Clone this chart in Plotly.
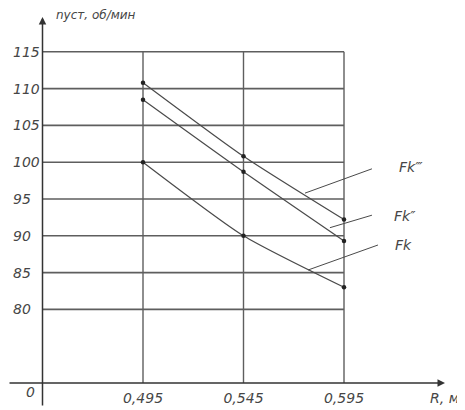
import plotly.graph_objects as go

# ---- data ----
R = [0.495, 0.545, 0.595]
Fk = [100.0, 90.0, 83.0]
Fk2 = [108.5, 98.7, 89.3]
Fk3 = [110.8, 100.8, 92.2]

y_ticks = [80, 85, 90, 95, 100, 105, 110, 115]
y_ticktext = ["80", "85", "90", "95", "100", "105", "110", "115"]
x_ticks = [0.495, 0.545, 0.595]
x_ticktext = ["0,495", "0,545", "0,595"]

series_names = ["Fk", "Fk\u2033", "Fk\u2034"]
x0, y0 = 0.445, 70.0  # broken-axis origin shown as "0"

# page has an 8px body margin, so the figure is a bit smaller than the window
W, H = 457, 402
OX, OY = 34.5, 375.0          # origin position inside the figure (px)
SX, SY = 2010.0, 7.36         # px per data unit
XL, XR = x0 - OX / SX, x0 + (W - OX) / SX
YB, YT = y0 - (H - OY) / SY, y0 + OY / SY

FONT = "DejaVu Sans"
TXT = "#464646"
GRID = "#5e5e5e"
LINE = "#4a4a4a"

fig = go.Figure()

for name, ys in zip(series_names, [Fk, Fk2, Fk3]):
    fig.add_trace(go.Scatter(
        x=R, y=ys, mode="lines+markers", name=name,
        line=dict(color=LINE, width=1.2, shape="spline", smoothing=0.6),
        marker=dict(color="#222", size=4.5),
        showlegend=False, hoverinfo="skip",
    ))

shapes = []
for yv in y_ticks:
    shapes.append(dict(type="line", xref="x", yref="y", x0=x0, x1=x_ticks[-1],
                       y0=yv, y1=yv, line=dict(color=GRID, width=1.6), layer="below"))
for xv in x_ticks:
    shapes.append(dict(type="line", xref="x", yref="y", x0=xv, x1=xv,
                       y0=y0, y1=y_ticks[-1], line=dict(color=GRID, width=1.4), layer="below"))

# leader lines for series labels
leaders = [
    ((0.5771, 85.35), (0.6119, 88.75), (0.6195, 88.75)),
    ((0.5880, 91.1), (0.6089, 92.8), (0.6190, 92.7)),
    ((0.5756, 95.8), (0.6089, 99.1), (0.6214, 99.3)),
]
for (p0, p1, _) in leaders:
    shapes.append(dict(type="line", xref="x", yref="y", x0=p0[0], y0=p0[1],
                       x1=p1[0], y1=p1[1], line=dict(color=LINE, width=1)))

ann = []
for name, (_, _, lp) in zip(series_names, leaders):
    ann.append(dict(x=lp[0], y=lp[1], xref="x", yref="y", text=name, showarrow=False,
                    xanchor="left", yanchor="middle",
                    font=dict(family=FONT, size=14, color=TXT, style="italic")))

# axis lines with arrows
ann.append(dict(x=x0, y=y0 + 366 / SY, ax=x0, ay=y0 - 24 / SY, xref="x", yref="y",
                axref="x", ayref="y", text="", showarrow=True, arrowhead=2,
                arrowsize=1, arrowwidth=1.5, arrowcolor="#333"))
ann.append(dict(x=x0 + 402.5 / SX, y=y0, ax=x0 - OX / SX, ay=y0, xref="x", yref="y",
                axref="x", ayref="y", text="", showarrow=True, arrowhead=2,
                arrowsize=1, arrowwidth=1.5, arrowcolor="#333"))

ann.append(dict(x=x0 - 12.5 / SX, y=y0 - 9 / SY, xref="x", yref="y", text="0",
                showarrow=False, xanchor="center", yanchor="middle",
                font=dict(family=FONT, size=14, color=TXT, style="italic")))
ann.append(dict(x=x0 + 402 / SX, y=y0 - 15 / SY, xref="x", yref="y", text="R, м",
                showarrow=False, xanchor="center", yanchor="middle",
                font=dict(family=FONT, size=14, color=TXT, style="italic")))
ann.append(dict(x=x0 + 11 / SX, y=y0 + 368 / SY, xref="x", yref="y",
                text="nуст, об/мин", showarrow=False, xanchor="left", yanchor="middle",
                font=dict(family=FONT, size=12, color=TXT, style="italic")))

fig.update_layout(
    width=W, height=H, autosize=False,
    margin=dict(l=0, r=0, t=0, b=0),
    paper_bgcolor="white", plot_bgcolor="white",
    shapes=shapes, annotations=ann,
    xaxis=dict(range=[XL, XR], showgrid=False, zeroline=False, showline=False,
               tickvals=x_ticks, ticktext=x_ticktext, ticks="",
               ticklabelposition="inside", ticklabelstandoff=1,
               tickfont=dict(family=FONT, size=14, color=TXT, style="italic")),
    yaxis=dict(range=[YB, YT], showgrid=False, zeroline=False, showline=False,
               tickvals=y_ticks, ticktext=y_ticktext, ticks="",
               ticklabelposition="inside", ticklabelstandoff=2,
               tickfont=dict(family=FONT, size=14, color=TXT, style="italic")),
)

fig.write_html("out.html")
